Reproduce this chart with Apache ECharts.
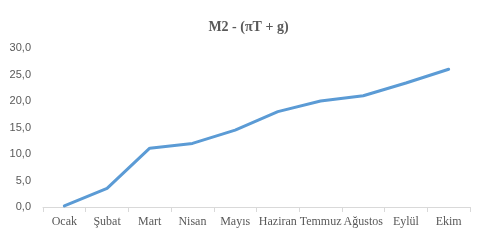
<!DOCTYPE html>
<html><head><meta charset="utf-8">
<script src="https://cdn.jsdelivr.net/npm/echarts@6/dist/echarts.min.js"></script>
<style>html,body{margin:0;padding:0;background:#fff}#c{width:497px;height:244px}</style>
</head><body><div id="c"></div>
<script>
var months = ['Ocak','Şubat','Mart','Nisan','Mayıs','Haziran','Temmuz','Ağustos','Eylül','Ekim'];
var values = [0.2, 3.5, 11.1, 12.0, 14.5, 18.0, 20.0, 21.0, 23.4, 26.0];
var yTicks = {min: 0, max: 30, interval: 5};
var chart = echarts.init(document.getElementById('c'), null, {renderer: 'canvas'});
chart.setOption({
  animation: false,
  title: {
    text: 'M2 - (πT + g)', left: 'center', top: 15,
    textStyle: {fontFamily: 'Liberation Serif', fontWeight: 'bold', fontSize: 14, color: '#595959'}
  },
  grid: {left: 43, right: 27, top: 48, bottom: 37, containLabel: false},
  xAxis: {
    type: 'category', data: months, boundaryGap: true,
    axisLine: {lineStyle: {color: '#d9d9d9', width: 1}},
    axisTick: {show: true, length: 5, lineStyle: {color: '#d9d9d9'}},
    axisLabel: {fontFamily: 'Liberation Serif', fontSize: 12, color: '#595959', margin: 9, interval: 0}
  },
  yAxis: {
    type: 'value', min: yTicks.min, max: yTicks.max, interval: yTicks.interval,
    axisLine: {show: false}, axisTick: {show: false}, splitLine: {show: false},
    axisLabel: {fontFamily: 'Liberation Sans', fontSize: 11, color: '#595959', margin: 12,
      formatter: function (v) { return v.toFixed(1).replace('.', ','); }}
  },
  series: [{
    type: 'line', data: values, symbol: 'none',
    lineStyle: {color: '#5b9bd5', width: 3, cap: 'round', join: 'round'}
  }]
});
</script></body></html>
